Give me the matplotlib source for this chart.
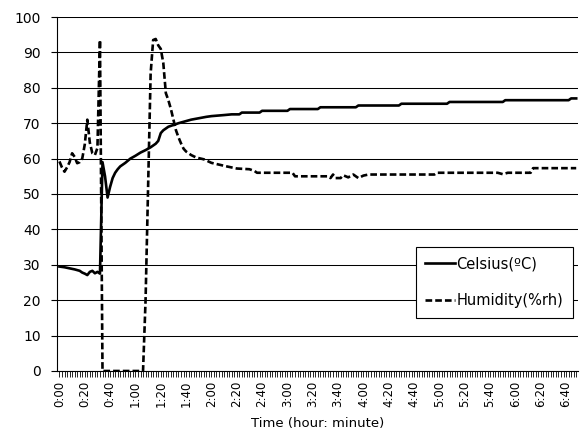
import matplotlib
matplotlib.use("Agg")
import matplotlib.pyplot as plt
from matplotlib.ticker import MultipleLocator, FixedLocator

# ---- data (time in minutes since start) ----
temp_time = [0, 4, 8, 12, 16, 18, 20, 22, 24, 26, 28, 30, 32, 34, 36, 38, 40, 42, 44, 46,
             48, 52, 56, 60, 64, 68, 72, 76, 78, 80, 82, 86, 90, 94, 100, 104, 110, 116, 120, 130,
             136, 142, 144, 158, 160, 180, 182, 204, 206, 234, 236, 268, 270, 306, 308, 350, 352, 402, 404, 408]
temp_c = [29.5, 29.3, 29.0, 28.7, 28.3, 27.8, 27.5, 27.1, 28.0, 28.3, 27.6, 28.0, 27.5, 59.0, 55.0, 49.0, 52.0, 54.5, 56.0, 57.0,
          57.8, 58.8, 60.0, 60.8, 61.7, 62.4, 63.2, 64.2, 65.0, 67.2, 68.0, 69.0, 69.5, 70.0, 70.6, 71.0, 71.4, 71.8, 72.0, 72.3,
          72.5, 72.5, 73.0, 73.0, 73.5, 73.5, 74.0, 74.0, 74.5, 74.5, 75.0, 75.0, 75.5, 75.5, 76.0, 76.0, 76.5, 76.5, 77.0, 77.0]

hum_time = [0, 2, 4, 6, 8, 10, 12, 14, 16, 18, 20, 22, 24, 26, 28, 30, 32, 34, 66, 68,
            70, 72, 74, 76, 78, 80, 82, 84, 86, 88, 90, 92, 94, 96, 98, 100, 102, 104, 108, 114,
            120, 126, 132, 140, 150, 154, 156, 184, 186, 212, 214, 216, 218, 222, 224, 228, 232, 236, 240, 244,
            296, 298, 346, 350, 354, 372, 374, 408]
hum_rh = [59.2, 57.5, 56.3, 57.5, 59.0, 61.5, 60.5, 58.7, 59.0, 60.0, 64.0, 71.0, 64.5, 61.5, 61.0, 63.0, 93.5, 0.0, 0.0, 20.0,
          52.0, 84.0, 93.5, 93.8, 92.0, 91.0, 87.0, 78.5, 76.5, 74.0, 71.0, 68.0, 66.0, 64.3, 62.8, 62.0, 61.5, 61.0, 60.3, 59.8,
          58.8, 58.3, 57.8, 57.2, 57.0, 56.5, 56.0, 56.0, 55.0, 55.0, 54.5, 55.5, 54.5, 54.5, 55.3, 54.7, 55.5, 54.5, 55.2, 55.5,
          55.5, 56.0, 56.0, 55.6, 56.0, 56.0, 57.3, 57.3]

tick_minutes = list(range(0, 401, 20))
tick_labels = [f"{m // 60}:{m % 60:02d}" for m in tick_minutes]
y_ticks = list(range(0, 101, 10))

series_labels = ["Celsius(ºC)", "Humidity(%rh)"]
x_title = "Time (hour: minute)"

plt.rcParams["font.family"] = ["DejaVu Sans"]
plt.rcParams["lines.scale_dashes"] = False

fig = plt.figure(figsize=(5.81, 4.34), dpi=100)
ax = fig.add_axes([0.0986, 0.1452, 0.8962, 0.8156])

ax.plot(temp_time, temp_c, color="black", lw=1.9, solid_joinstyle="round", label=series_labels[0], zorder=3)
ax.plot(hum_time, hum_rh, color="black", lw=1.9, dashes=(4.8, 2.2), dash_capstyle="butt",
        label=series_labels[1], zorder=3)

ax.set_xlim(-1.7, 409.4)
ax.set_ylim(0, 100)

ax.yaxis.set_major_locator(FixedLocator(y_ticks))
ax.set_yticklabels([str(v) for v in y_ticks], fontsize=10)
ax.tick_params(axis="y", direction="out", length=4, width=0.8, pad=8)

ax.xaxis.set_major_locator(FixedLocator(tick_minutes))
ax.set_xticklabels(tick_labels, rotation=90, fontsize=8.5)
ax.xaxis.set_minor_locator(MultipleLocator(2))
ax.tick_params(axis="x", which="both", direction="out", length=4, width=0.6, pad=3)

ax.grid(axis="y", color="black", lw=0.75, zorder=1)
for s in ["top", "right"]:
    ax.spines[s].set_visible(False)
ax.spines["left"].set_linewidth(0.8)
ax.spines["bottom"].set_linewidth(0.8)

ax.set_xlabel(x_title, fontsize=9.5, labelpad=7)

leg = ax.legend(loc="upper right", bbox_to_anchor=(0.990, 0.350), borderaxespad=0,
                fontsize=10.5, handlelength=2.05, handletextpad=0.1, labelspacing=1.5,
                borderpad=0.65, fancybox=False, framealpha=1, edgecolor="black")
leg.get_frame().set_linewidth(0.8)

fig.savefig("out.png", dpi=100)
